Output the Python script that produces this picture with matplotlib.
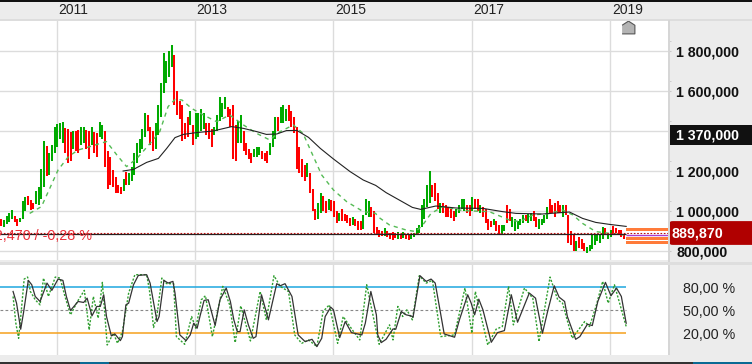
import matplotlib
matplotlib.use('Agg')
import numpy as np
import matplotlib.pyplot as plt
from matplotlib.patches import Rectangle, FancyBboxPatch

plt.rcParams['font.family'] = ['Liberation Sans', 'DejaVu Sans']

# fortnightly bars, thousands
bar_start = 2010.2
bar_high = [960,955,975,990,1005,975,960,965,1050,1070,1075,1055,1040,1100,1120,1210,1350,1325,1290,1330,
            1420,1435,1440,1445,1415,1410,1395,1400,1400,1405,1420,1420,1405,1400,1420,1395,1390,1445,1430,1400,
            1300,1270,1205,1170,1130,1120,1160,1195,1190,1220,1290,1340,1360,1410,1490,1480,1420,1400,1440,1530,
            1640,1790,1750,1800,1830,1780,1600,1550,1530,1440,1470,1500,1430,1490,1490,1510,1490,1440,1440,1410,
            1420,1480,1570,1540,1570,1520,1510,1530,1430,1450,1480,1400,1340,1310,1290,1310,1320,1320,1300,1290,
            1300,1340,1400,1470,1470,1520,1530,1510,1530,1500,1470,1420,1320,1260,1230,1240,1190,1110,1010,1040,
            1090,1075,1050,1060,1055,1050,1000,990,1010,985,980,965,970,960,950,950,980,1060,1050,1020,1000,
            920,905,900,915,900,890,895,890,895,880,895,885,880,885,890,915,930,1030,1060,1130,
            1200,1130,1140,1090,1040,1040,1030,1020,1010,1000,1010,1030,1060,1060,1030,1030,1070,1060,1060,1030,
            1020,1010,960,950,960,950,930,930,930,1030,1010,970,960,950,960,980,980,985,990,1000,
            970,960,960,980,1020,1060,1030,1040,1050,1030,1030,1030,980,900,880,850,870,860,840,820,
            830,880,880,880,880,920,915,890,905,925,915,905,905,880]
bar_low = [925,920,935,945,960,945,925,945,960,1000,1030,1005,1010,1035,1030,1060,1120,1175,1180,1250,
           1290,1320,1360,1340,1290,1240,1250,1310,1300,1290,1330,1340,1310,1260,1330,1290,1270,1370,1360,1220,
           1110,1130,1120,1090,1090,1085,1100,1130,1130,1150,1180,1240,1290,1310,1370,1400,1330,1300,1310,1380,
           1470,1590,1640,1670,1720,1530,1480,1460,1350,1360,1370,1430,1330,1360,1370,1400,1410,1380,1360,1320,
           1380,1400,1450,1470,1510,1470,1420,1260,1250,1340,1340,1300,1280,1260,1240,1270,1270,1280,1260,1250,
           1240,1280,1320,1360,1400,1440,1440,1450,1450,1420,1390,1210,1190,1170,1150,1170,1090,1000,955,960,
           990,1000,990,1005,1000,970,940,950,950,950,940,925,930,925,905,905,910,980,970,970,890,
           885,870,875,875,870,860,855,865,860,860,865,860,855,860,870,880,890,920,960,1020,
           1040,1070,1050,1010,990,990,970,970,965,950,970,990,1010,1000,990,975,1000,1010,1000,990,
           970,940,905,920,930,900,885,880,900,940,950,920,900,910,930,940,950,940,950,950,
           920,910,930,940,960,990,990,970,990,990,970,980,840,830,800,800,815,810,800,790,
           800,810,830,850,840,860,880,860,870,885,890,885,870,860]
bar_up = [0,1,1,1,1,0,0,1,1,1,0,0,0,1,1,1,1,0,1,1,
          1,1,1,1,0,0,0,1,0,0,1,1,0,0,1,0,0,1,1,0,
          0,0,0,0,0,0,1,0,1,1,1,1,1,1,1,0,0,0,1,1,
          1,1,1,1,1,0,0,0,0,0,0,1,0,1,1,1,1,0,0,0,
          1,1,1,1,1,0,0,0,0,1,1,0,0,0,0,1,1,1,0,0,
          0,1,1,1,0,1,1,1,0,0,0,0,0,0,0,1,0,0,0,1,
          1,0,0,1,0,0,0,1,0,0,0,0,1,0,0,0,1,1,1,0,0,
          0,0,0,1,0,0,0,0,1,0,1,0,0,1,1,1,1,1,1,1,
          1,0,0,0,1,0,0,0,0,0,1,1,1,1,0,0,1,0,0,1,
          0,0,0,0,1,0,0,1,1,0,0,1,1,1,1,1,0,1,1,0,
          0,1,1,1,1,0,0,0,0,0,1,0,0,0,0,1,0,0,0,
          1,1,1,1,1,1,1,0,1,1,0,0,0,0,0]

ma_long_year = [2011.96,2012.11,2012.30,2012.47,2012.59,2012.71,2012.83,2013.02,2013.26,2013.53,2013.70,2013.89,
                2014.03,2014.18,2014.32,2014.47,2014.64,2014.81,2015.00,2015.24,2015.43,2015.61,2015.76,2015.95,
                2016.14,2016.26,2016.48,2016.77,2017.16,2017.44,2017.64,2018.02,2018.41,2018.60,2018.79,2018.99,2019.23]
ma_long = [1200,1208,1243,1263,1313,1367,1383,1392,1400,1422,1413,1397,1383,1385,1402,1403,1368,1313,1260,1197,
           1155,1128,1092,1055,1018,1008,1025,1015,1013,997,988,985,995,963,943,933,923]

ma_short_year = [2010.61,2010.78,2010.90,2011.02,2011.17,2011.31,2011.48,2011.63,2011.72,2011.87,2012.01,2012.16,
                 2012.35,2012.49,2012.61,2012.71,2012.81,2012.95,2013.12,2013.31,2013.50,2013.70,2013.89,2014.08,
                 2014.23,2014.42,2014.56,2014.71,2014.83,2015.00,2015.19,2015.43,2015.61,2015.64,2015.81,2016.05,
                 2016.19,2016.29,2016.41,2016.58,2016.87,2017.25,2017.54,2017.69,2017.88,2018.12,2018.31,2018.46,
                 2018.60,2018.79,2018.99,2019.20]
ma_short = [988,1022,1113,1205,1272,1305,1322,1338,1347,1280,1222,1263,1338,1397,1522,1558,1555,1513,1480,1447,
            1480,1430,1388,1355,1397,1430,1388,1272,1180,1105,1047,997,988,972,930,905,897,930,988,1022,1002,997,
            955,947,980,988,1005,980,938,897,888,880]

osc_year = [2010.37,2010.42,2010.48,2010.52,2010.59,2010.64,2010.69,2010.76,2010.86,2010.93,2011.02,2011.09,2011.14,
            2011.20,2011.31,2011.39,2011.44,2011.51,2011.58,2011.63,2011.68,2011.72,2011.79,2011.84,2011.92,2011.95,
            2012.00,2012.04,2012.11,2012.18,2012.30,2012.35,2012.45,2012.48,2012.55,2012.61,2012.68,2012.71,2012.78,
            2012.87,2012.93,2012.98,2013.03,2013.07,2013.13,2013.19,2013.23,2013.29,2013.36,2013.45,2013.51,2013.56,
            2013.61,2013.65,2013.71,2013.77,2013.84,2013.88,2013.96,2014.06,2014.18,2014.23,2014.30,2014.40,2014.49,
            2014.59,2014.69,2014.76,2014.83,2014.88,2014.96,2015.00,2015.09,2015.17,2015.26,2015.41,2015.46,2015.54,
            2015.62,2015.64,2015.69,2015.76,2015.86,2015.90,2015.98,2016.05,2016.12,2016.15,2016.25,2016.34,2016.41,
            2016.47,2016.53,2016.60,2016.75,2016.82,2016.94,2016.99,2017.04,2017.10,2017.16,2017.28,2017.37,2017.47,
            2017.57,2017.66,2017.83,2017.92,2018.02,2018.10,2018.19,2018.26,2018.34,2018.38,2018.50,2018.56,2018.67,
            2018.74,2018.82,2018.93,2019.01,2019.09,2019.16,2019.23]
osc_k = [74.3,59.1,25.2,46.1,88.7,83,67.8,61.3,85.2,75.7,90.4,88.7,67.8,49.6,61.3,60,65.6,42.6,54.8,54.8,70,41.7,
         16.5,19.1,10.4,15.6,56.9,59.1,83,95.2,96.1,85.2,35.2,41.7,88.7,85.2,87.4,72.2,17.8,10.4,17.8,33,26.5,41.7,
         62.6,63.5,50.4,30,63.5,78.7,61.3,37.4,22.1,22.1,50.4,30.9,13.4,15.6,70,37.4,84.4,81.7,84.4,67.8,17.8,9.1,
         12.1,2.6,13.4,41.7,53.9,50.4,14.3,35.2,20.8,17.8,33,74.3,43.9,17.8,7.8,12.1,25.6,25.2,48.2,43.9,42.6,40.9,
         94.8,87.4,90.4,85.2,54.8,19.1,14.8,37.4,70,59.1,43.9,64.3,50.4,8.2,20.8,23.4,70,34.3,72.2,65.6,20,50.4,81.7,
         67,61.3,41.7,12.1,15.6,31.7,30,61.3,86.1,68.7,78.7,67.8,33]

sig_year = [2010.37,2010.41,2010.45,2010.49,2010.53,2010.58,2010.62,2010.69,2010.76,2010.81,2010.88,2010.98,2011.05,
            2011.12,2011.20,2011.30,2011.40,2011.47,2011.53,2011.60,2011.66,2011.73,2011.82,2011.88,2011.95,2012.04,
            2012.13,2012.30,2012.34,2012.40,2012.45,2012.52,2012.59,2012.69,2012.73,2012.85,2012.95,2013.01,2013.09,
            2013.15,2013.25,2013.40,2013.50,2013.58,2013.66,2013.80,2013.94,2014.03,2014.14,2014.23,2014.35,2014.44,
            2014.54,2014.64,2014.76,2014.85,2014.94,2015.06,2015.14,2015.29,2015.38,2015.48,2015.62,2015.66,2015.81,
            2015.86,2015.93,2016.00,2016.06,2016.14,2016.24,2016.34,2016.43,2016.55,2016.75,2016.90,2017.00,2017.05,
            2017.23,2017.35,2017.44,2017.53,2017.60,2017.76,2017.88,2017.97,2018.13,2018.24,2018.31,2018.45,2018.63,
            2018.70,2018.80,2018.89,2018.97,2019.06,2019.23]
sig_d = [67.8,33,13.4,50.4,90.4,93,74.3,63.5,56.9,91.7,67.8,93,91.7,67.8,43.9,61.3,75.7,24.3,67.8,39.5,86.1,4.7,20,
         6.9,22.1,72.2,96.1,96.1,76.5,27.4,43.9,91.7,84.4,84.4,15.6,5.6,41.7,26.5,63.5,68.7,15.6,80.9,56.9,7.8,55.6,
         10,74.3,37.4,94.8,80.9,74.3,17.8,6.9,11.3,2.6,48.2,56.9,6.9,41.7,22.1,11.3,83,22.1,5.6,30.9,11.3,54.8,41.7,
         50.4,37.4,94.8,85.2,88.7,15.6,17.8,78.7,20,74.3,4.7,25.2,28.7,80.9,30.9,78.7,65.6,9.1,93,63.5,59.1,13.4,35.2,
         28.7,56.9,87.4,59.1,83,28.7]

year_ticks = [2011, 2013, 2015, 2017, 2019]
price_ticks = [800, 1000, 1200, 1400, 1600, 1800]
price_labels = ['800,000', '1 000,000', '1 200,000', '', '1 600,000', '1 800,000']
price_minor = [1050, 1250, 1450, 1650, 1850]
osc_ticks = [20, 50, 80]
osc_labels = ['20,00 %', '50,00 %', '80,00 %']
last_price = 883
end_year = 2019.23
band_levels = [(901, 914), (855, 868), (836, 849)]

W, H = 752, 364
fig = plt.figure(figsize=(W / 100, H / 100), dpi=100, facecolor='#ececec')

def px_axes(x0, y0, x1, y1):
    return fig.add_axes([x0 / W, 1 - y1 / H, (x1 - x0) / W, (y1 - y0) / H])

def px_rect(x0, y0, x1, y1, color):
    fig.add_artist(Rectangle((x0 / W, 1 - y1 / H), (x1 - x0) / W, (y1 - y0) / H,
                             transform=fig.transFigure, facecolor=color, edgecolor='none'))

xlim = (2010.181, 2010.181 + 668 / 69.2)
grid = '#dcdcdc'

ax = px_axes(0, 20, 668, 260)
ax.set_xlim(xlim)
ax.set_ylim(755, 1955)
ax.set_xticks(year_ticks)
ax.tick_params(axis='x', length=0, labelbottom=False)
ax.yaxis.tick_right()
ax.set_yticks(price_ticks, price_labels, fontweight='bold', fontsize=10.2, color='#111111')
ax.set_yticks(price_minor, minor=True)
ax.tick_params(axis='y', which='both', length=2, color='#c8c8c8', pad=3.8)
ax.grid(True, color=grid, lw=1)
ax.set_axisbelow(True)
for s in ax.spines.values():
    s.set_visible(False)

bar_x = bar_start + np.arange(len(bar_high)) * 2 / 52
colors = ['#00aa00' if u else '#ff0000' for u in bar_up]
ax.vlines(bar_x, bar_low, bar_high, colors=colors, lw=1.45, zorder=3)
ax.plot(ma_short_year, ma_short, color='#55bb55', lw=1, ls=(0, (3, 3)), zorder=4)
ax.plot(ma_long_year, ma_long, color='#222222', lw=0.8, zorder=5)

for lo, hi in band_levels:
    ax.fill_between([end_year, xlim[1]], lo, hi, color='#ff7b3a', lw=0, zorder=3)
ax.hlines(last_price, xlim[0], end_year, color='#222222', lw=0.9, zorder=6)
ax.hlines(last_price + 5, xlim[0], xlim[1], color='#bb1111', lw=0.8, ls=(0, (1.5, 1.5)), zorder=7)
ax.hlines(878, end_year, xlim[1], color='#a83cd0', lw=1, zorder=6)
ax.text(2010.181 + 92 / 69.2, last_price - 9, '-2,470 / -0,28 %', color='#e8303a', fontsize=10.4,
        ha='right', va='center', clip_on=True, zorder=8)

for y, label in zip(year_ticks, year_ticks):
    ax.text(y + 1.5 / 69.2, 1955 + 9.5 * 5, str(label), fontsize=10, color='#222222', va='center', ha='left',
            clip_on=False)
ax.plot([2019.25], [1955 - 6.5 * 5], marker=[(-1, -1), (1, -1), (1, 0.35), (0, 1), (-1, 0.35)], ms=9.2,
        mfc='#b4b4b4', mec='#555555', mew=0.8, clip_on=False, zorder=9)

# price boxes on the right scale
ax.add_patch(Rectangle((668 / W, 1 - 145 / H), 84 / W, 20 / H, transform=fig.transFigure,
                       facecolor='#111111', edgecolor='none', clip_on=False, zorder=10))
fig.text(676 / W, 1 - 135.5 / H, '1 370,000', color='white', fontweight='bold', fontsize=10.2, va='center', zorder=11)
ax.add_patch(FancyBboxPatch((670 / W, 1 - 243.5 / H), 86 / W, 21 / H, boxstyle='round,pad=0,rounding_size=0.004',
                            transform=fig.transFigure, facecolor='#b00000', edgecolor='#b00000', lw=2,
                            clip_on=False, zorder=10))
fig.text(671 / W, 1 - 233.5 / H, '889,870', color='white', fontweight='bold', fontsize=10.3, va='center', zorder=11)

axo = px_axes(0, 265, 668, 355)
axo.set_xlim(xlim)
axo.set_ylim(-8.3, 108.7)
axo.set_xticks(year_ticks)
axo.tick_params(axis='x', length=0, labelbottom=False)
axo.yaxis.tick_right()
axo.set_yticks(osc_ticks, osc_labels, fontsize=10.3, color='#222222')
axo.tick_params(axis='y', length=0, pad=10.7)
axo.grid(True, axis='x', color=grid, lw=1)
axo.set_axisbelow(True)
for s in axo.spines.values():
    s.set_visible(False)
axo.hlines(80, xlim[0], end_year, color='#1ea7df', lw=1.1)
axo.hlines(20, xlim[0], end_year, color='#f5a11c', lw=1.1)
axo.hlines(50, xlim[0], end_year, color='#888888', lw=0.8, ls=(0, (2.5, 2)))
axo.plot(sig_year, sig_d, color='#2f9e2f', lw=1, ls=(0, (1.5, 1.2)), zorder=3)
axo.plot(osc_year, osc_k, color='#333333', lw=0.9, zorder=4)

# window chrome
px_rect(0, 0, W, 2, '#111111')
px_rect(0, 19, W, 20.5, '#dddddd')
px_rect(668, 20, 670, 355, '#d6d6d6')
px_rect(0, 261.5, W, 265, '#dedede')
px_rect(0, 362, W, H, '#333333')
px_rect(80, 362, 109, H, '#0b6a94')
px_rect(693, 362, W, H, '#0b6a94')

fig.savefig('out.png', dpi=100, facecolor=fig.get_facecolor())
